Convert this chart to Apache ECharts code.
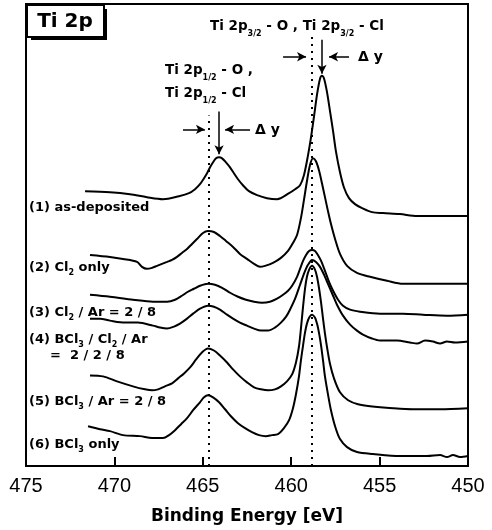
<!DOCTYPE html>
<html>
<head>
<meta charset="utf-8">
<script src="https://cdn.jsdelivr.net/npm/echarts@6/dist/echarts.min.js"></script>
<style>
  html, body { margin: 0; padding: 0; background: #fff; }
  #main { width: 492px; height: 530px; }
</style>
</head>
<body>
<div id="main"></div>
<script>
// binding energy (eV) vs intensity (arb. units, curves stacked with offsets)
const asDeposited = [[471.66,276],[470.25,275],[469.12,273],[468.16,270],[467.25,268],[466.35,271],[465.78,274],[465.44,278],[465.16,283],[464.93,289],[464.76,294],[464.59,300],[464.42,305],[464.25,309],[464.08,310],[463.91,309],[463.69,305],[463.46,300],[463.24,294],[463.01,288],[462.73,282],[462.39,276],[461.93,272],[461.37,269],[460.80,268],[460.12,274],[459.78,278],[459.50,282],[459.28,292],[459.05,312],[458.88,330],[458.71,351],[458.54,373],[458.37,389],[458.26,392],[458.14,389],[457.98,376],[457.81,357],[457.63,336],[457.47,316],[457.24,295],[457.02,280],[456.73,269],[456.39,263],[455.99,259],[455.43,255],[454.81,254],[453.85,253],[452.88,251],[451.58,251],[450.00,251]];
const cl2Only = [[471.38,212],[470.25,210],[469.51,208],[468.72,205],[468.44,200],[468.16,198],[467.87,199],[467.59,201],[467.31,203],[467.02,205],[466.74,207],[466.46,210],[466.18,214],[465.89,218],[465.61,223],[465.33,228],[464.99,234],[464.71,236],[464.37,235],[464.03,231],[463.69,226],[463.29,220],[462.90,213],[462.50,208],[462.10,203],[461.76,200],[461.48,201],[461.03,204],[460.58,209],[460.18,216],[459.90,224],[459.67,232],[459.45,249],[459.28,267],[459.11,286],[458.94,302],[458.77,309],[458.60,306],[458.43,297],[458.26,284],[458.09,270],[457.92,256],[457.75,243],[457.52,228],[457.24,213],[456.84,201],[456.28,194],[455.54,190],[454.58,186],[453.68,183],[452.72,183],[451.58,183],[450.00,183]];
const cl2Ar = [[471.38,172],[470.25,170],[468.95,167],[467.82,165],[467.02,165],[466.57,167],[466.18,171],[465.84,175],[465.50,178],[465.16,181],[464.71,183],[464.31,182],[463.91,179],[463.46,174],[463.01,170],[462.56,167],[462.10,165],[461.65,164],[461.20,165],[460.80,168],[460.46,172],[460.18,176],[459.95,181],[459.67,190],[459.50,198],[459.33,206],[459.16,212],[458.99,216],[458.82,217],[458.65,216],[458.49,212],[458.31,206],[458.09,196],[457.86,185],[457.63,176],[457.35,167],[457.07,161],[456.67,157],[456.11,155],[454.98,153],[453.68,153],[452.55,152],[451.19,151],[450.00,152]];
const bcl3Cl2Ar = [[471.38,148],[470.81,148],[470.25,146],[469.40,144],[468.67,144],[467.82,141],[467.42,139],[467.02,138],[466.63,140],[466.29,143],[465.89,148],[465.55,153],[465.16,158],[464.71,161],[464.37,160],[464.03,157],[463.63,152],[463.29,148],[462.90,144],[462.50,141],[462.10,138],[461.71,136],[461.31,136],[460.92,139],[460.58,144],[460.29,150],[460.07,157],[459.78,168],[459.50,182],[459.28,193],[459.05,202],[458.82,207],[458.60,205],[458.37,200],[458.14,192],[457.92,183],[457.63,171],[457.41,162],[457.07,151],[456.67,142],[456.28,136],[455.94,132],[455.43,128],[454.98,126],[454.02,126],[453.28,124],[452.88,123],[452.43,126],[451.98,125],[451.58,123],[451.19,125],[450.74,124],[450.00,125]];
const bcl3Ar = [[471.38,91],[470.64,90],[469.85,85],[468.95,80],[468.27,77],[467.87,76],[467.53,77],[467.14,80],[466.74,83],[466.40,88],[466.06,93],[465.72,99],[465.38,107],[465.05,114],[464.71,118],[464.37,116],[464.03,111],[463.63,104],[463.29,97],[462.90,90],[462.50,84],[462.10,79],[461.71,77],[461.31,76],[460.92,77],[460.58,80],[460.24,85],[459.95,92],[459.73,104],[459.56,120],[459.45,138],[459.33,160],[459.22,178],[459.11,190],[458.99,197],[458.82,201],[458.65,197],[458.54,190],[458.43,179],[458.31,164],[458.20,148],[458.09,133],[457.98,120],[457.81,103],[457.58,88],[457.24,74],[456.78,66],[456.22,62],[455.54,60],[454.24,58],[453.11,57],[451.58,57],[450.00,58]];
const bcl3Only = [[471.49,40],[470.81,37],[470.25,35],[469.51,31],[468.55,30],[467.87,28],[467.25,28],[466.91,31],[466.57,36],[466.23,42],[465.89,48],[465.55,56],[465.16,64],[464.93,69],[464.71,71],[464.42,69],[464.08,64],[463.74,57],[463.41,50],[463.01,43],[462.61,38],[462.22,34],[461.82,31],[461.43,30],[461.09,31],[460.75,32],[460.41,38],[460.12,46],[459.90,58],[459.73,72],[459.56,90],[459.45,106],[459.33,121],[459.22,134],[459.11,143],[458.99,149],[458.82,152],[458.65,149],[458.54,143],[458.43,134],[458.31,121],[458.20,106],[458.09,90],[457.92,72],[457.75,56],[457.52,40],[457.24,27],[456.84,19],[456.28,14],[455.37,12],[453.85,10],[452.32,10],[451.58,11],[451.19,9],[450.85,11],[450.45,9],[450.00,10]];
const spectra = [asDeposited, cl2Only, cl2Ar, bcl3Cl2Ar, bcl3Ar, bcl3Only];

const xTicks = { min: 450, max: 475, step: 5 };
const peakLines = [464.65, 458.82]; // Ti 2p1/2 , Ti 2p3/2 positions

const F = '"Liberation Sans", Arial, sans-serif';
const FB = '"DejaVu Sans", sans-serif';
const chart = echarts.init(document.getElementById('main'));

// text with subscripts, laid out piece by piece
const ctx = document.createElement('canvas').getContext('2d');
function mixed(x, y, parts, size, sub, drop) {
  let cx = 0;
  const children = parts.map(p => {
    const fs = p[1] ? sub : size;
    const font = 'bold ' + fs + 'px ' + FB;
    ctx.font = font;
    const el = { type: 'text', x: cx, y: p[1] ? drop : 0, style: { text: p[0], font: font, fill: '#000', verticalAlign: 'middle' } };
    cx += ctx.measureText(p[0]).width;
    return el;
  });
  return { type: 'group', x: x, y: y, z: 10, children: children };
}
function label(x, y, parts) { return mixed(x, y, parts, 13, 8, 5); }

const series = spectra.map(d => ({
  type: 'line', data: d, showSymbol: false, smooth: 0.3,
  lineStyle: { color: '#000', width: 2 }, silent: true
}));
series.push({
  type: 'line', data: [], silent: true,
  markLine: {
    silent: true, symbol: ['none', 'none'], label: { show: false },
    lineStyle: { color: '#000', width: 2, type: [2, 5] },
    data: [
      [{ coord: [peakLines[0], 0] }, { coord: [peakLines[0], 352] }],
      [{ coord: [peakLines[1], 0] }, { coord: [peakLines[1], 432] }]
    ]
  }
});
series.push({
  type: 'line', data: [], silent: true,
  markLine: {
    silent: true, symbol: ['none', 'arrow'], symbolSize: [7, 9], label: { show: false },
    lineStyle: { color: '#000', width: 1.5, type: 'solid' },
    data: [
      [{ coord: [464.08, 356] }, { coord: [464.08, 313] }],
      [{ coord: [466.12, 338] }, { coord: [464.88, 338] }],
      [{ coord: [462.33, 338] }, { coord: [463.74, 338] }],
      [{ coord: [458.26, 428] }, { coord: [458.26, 394] }],
      [{ coord: [460.46, 411] }, { coord: [459.16, 411] }],
      [{ coord: [456.73, 411] }, { coord: [457.86, 411] }]
    ]
  }
});

chart.setOption({
  animation: false,
  grid: { left: 26, right: 24, top: 4, bottom: 62, show: true, borderColor: '#000', borderWidth: 2 },
  xAxis: {
    type: 'value', inverse: true, min: xTicks.min, max: xTicks.max, interval: xTicks.step,
    name: 'Binding Energy [eV]', nameLocation: 'middle', nameGap: 42,
    nameTextStyle: { fontFamily: FB, fontWeight: 'bold', fontSize: 17, color: '#000' },
    axisLine: { lineStyle: { color: '#000', width: 2 } },
    axisTick: { inside: true, length: 9, lineStyle: { color: '#000', width: 2 } },
    axisLabel: { color: '#000', fontFamily: F, fontSize: 20, margin: 10 },
    splitLine: { show: false }
  },
  yAxis: { type: 'value', min: 0, max: 464, show: false, splitLine: { show: false } },
  series: series,
  graphic: [
    { type: 'rect', z: 10, shape: { x: 31, y: 9, width: 76, height: 31 }, style: { fill: '#000' } },
    { type: 'rect', z: 11, shape: { x: 27, y: 5, width: 77, height: 32 }, style: { fill: '#fff', stroke: '#000', lineWidth: 2 } },
    { type: 'text', z: 12, x: 65, y: 22, style: { text: 'Ti 2p', font: 'bold 20px ' + FB, fill: '#000', align: 'center', verticalAlign: 'middle' } },
    mixed(210, 26, [['Ti 2p'], ['3/2', 1], [' - O , Ti 2p'], ['3/2', 1], [' - Cl']], 13.5, 8, 8),
    mixed(165, 70, [['Ti 2p'], ['1/2', 1], [' - O ,']], 13.5, 8, 8),
    mixed(165, 93, [['Ti 2p'], ['1/2', 1], [' - Cl']], 13.5, 8, 8),
    { type: 'text', z: 10, x: 358, y: 57, style: { text: 'Δ y', font: 'bold 14px ' + FB, fill: '#000', verticalAlign: 'middle' } },
    { type: 'text', z: 10, x: 255, y: 130, style: { text: 'Δ y', font: 'bold 14px ' + FB, fill: '#000', verticalAlign: 'middle' } },
    label(29, 208, [['(1) as-deposited']]),
    label(29, 268, [['(2) Cl'], ['2', 1], [' only']]),
    label(29, 313, [['(3) Cl'], ['2', 1], [' / Ar = 2 / 8']]),
    label(29, 340, [['(4) BCl'], ['3', 1], [' / Cl'], ['2', 1], [' / Ar']]),
    label(50, 356, [['=  2 / 2 / 8']]),
    label(29, 402, [['(5) BCl'], ['3', 1], [' / Ar = 2 / 8']]),
    label(29, 445, [['(6) BCl'], ['3', 1], [' only']])
  ]
});
</script>
</body>
</html>
